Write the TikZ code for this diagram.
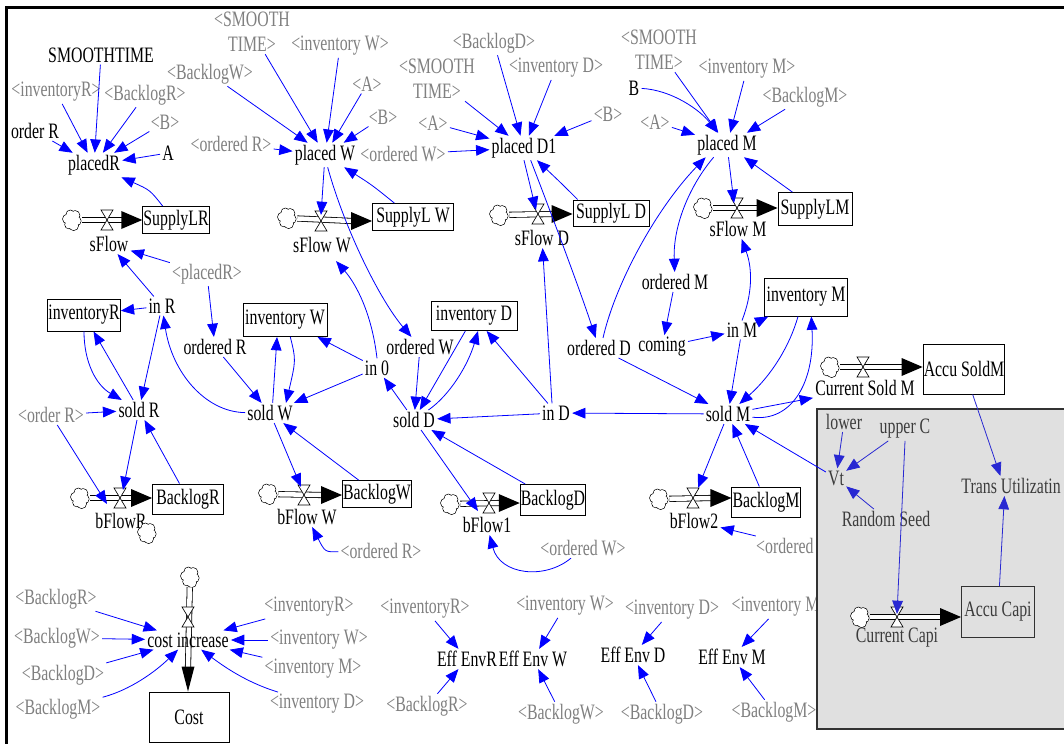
\documentclass[tikz,border=0pt]{standalone}
\usepackage{fontspec}
\setmainfont{Liberation Serif}[FakeStretch=0.72]
\usetikzlibrary{arrows.meta,calc}

\definecolor{lnk}{RGB}{0,0,255}
\definecolor{ghost}{RGB}{128,128,128}
\definecolor{panel}{RGB}{224,224,224}
\definecolor{panelline}{RGB}{50,50,50}
\definecolor{paneltext}{RGB}{60,60,60}
\definecolor{panellnk}{RGB}{40,40,210}

\tikzset{
  every node/.style={font=\fontsize{16.5}{19}\selectfont, inner sep=1.5pt},
  vname/.style={text=black},
  ghosttext/.style={text=ghost, align=center},
  ptext/.style={text=paneltext},
  stock/.style={draw=black, line width=0.7pt, inner xsep=0.5pt, inner ysep=1pt, fill=white},
  conn/.style={draw=lnk, line width=0.6pt, -{Triangle[length=10pt,width=8pt]}},
  panelconn/.style={conn, draw=panellnk},
  pipe/.style={draw=black, line width=0.6pt, double=white, double distance=3.4pt},
  srccloud/.style={circle, minimum size=15pt, inner sep=0pt},
  cloudpic/.pic={
    \foreach \a/\r in {10/4.4,70/4.9,130/4.2,190/4.7,250/4.3,310/4.8} \draw[line width=0.5pt, fill=white] ({4.8*cos(\a)},{6*sin(\a)}) circle (\r);
    \foreach \a/\r in {10/4.4,70/4.9,130/4.2,190/4.7,250/4.3,310/4.8} \fill[white] ({4.8*cos(\a)},{6*sin(\a)}) circle (\r-0.5);
    \fill[white] (0,0) circle (6.5);
  },
  valve/.pic={\draw[black, line width=0.5pt, fill=white] (-6,-10) -- (6,-10) -- (-6,10) -- (6,10) -- cycle;},
  headE/.pic={\fill[black] (0,0) -- (-21,-9) -- (-21,9) -- cycle;},
  headS/.pic={\fill[black] (0,0) -- (-6.5,-25) -- (6.5,-25) -- cycle;},
}

% a source cloud as a named node
\newcommand{\cloudnode}[2]{%
  \node[srccloud] (#1) at (#2) {};
  \pic at (#1) {cloudpic};
}
% cloud -> valve -> stock, horizontal pipe at the height of the valve
\newcommand{\stockflow}[3]{%
  \draw[pipe] (#1) -- ($(#3.west |- #2)+(-20,0)$);
  \pic at (#3.west |- #2) {headE};
  \pic at (#2) {valve};
}

\begin{document}
\begin{tikzpicture}[x=0.75pt,y=-0.75pt]
\useasboundingbox (0,0) rectangle (1064,743);
\clip (0,0) rectangle (1064,743);
\fill[white] (0,0) rectangle (1064,743);

% frame
\draw[line width=2.2pt] (6.5,745) -- (6.5,7.5) -- (1066,7.5);

% ---------------- retailer supply ----------------
\node[vname] (SMOOTHTIME) at (101,55) {SMOOTHTIME};
\node[ghosttext] (invRa) at (56,92) {<inventoryR>};
\node[ghosttext] (BRa) at (145,95) {<BacklogR>};
\node[ghosttext] (Ba) at (165,122) {<B>};
\node[vname] (orderR) at (35,131) {order R};
\node[vname] (A) at (168,153) {A};
\node[vname] (placedR) at (94,165) {placedR};
\cloudnode{c1}{72,220}
\coordinate (v1) at (107,220);
\node[stock, minimum width=48.75pt, minimum height=20.25pt] (SupplyLR) at (176,220) {SupplyLR};
\node[vname] (sFlow) at (109,244) {sFlow};

% ---------------- wholesaler supply ----------------
\node[ghosttext] (smW) at (252,32) {<SMOOTH\\TIME>};
\node[ghosttext] (invWa) at (340,46) {<inventory W>};
\node[ghosttext] (BWa) at (210,74) {<BacklogW>};
\node[ghosttext] (Aw) at (367,84) {<A>};
\node[ghosttext] (Bw) at (383,117) {<B>};
\node[ghosttext] (oRa) at (231,144) {<ordered R>};
\node[vname] (placedW) at (325,155) {placed W};
\node[ghosttext] (oWa) at (403,154) {<ordered W>};
\cloudnode{c2}{287,218}
\coordinate (v2) at (321,221);
\node[stock, minimum width=60.75pt, minimum height=20.25pt] (SupplyLW) at (413,217) {SupplyL W};
\node[vname] (sFlowW) at (322,245) {sFlow W};

% ---------------- distributor supply ----------------
\node[ghosttext] (BDa) at (494,43) {<BacklogD>};
\node[ghosttext] (smD) at (437,79) {<SMOOTH\\TIME>};
\node[ghosttext] (invDa) at (556,68) {<inventory D>};
\node[ghosttext] (Ad) at (433,123) {<A>};
\node[ghosttext] (Bd) at (608,114) {<B>};
\node[vname] (placedD) at (524,148) {placed D1};
\cloudnode{c3}{499,215}
\coordinate (v3) at (538,214);
\node[stock, minimum width=57pt, minimum height=19.5pt] (SupplyLD) at (611,213) {SupplyL D};
\node[vname] (sFlowD) at (542,238) {sFlow D};

% ---------------- manufacturer supply ----------------
\node[ghosttext] (smM) at (659,50) {<SMOOTH\\TIME>};
\node[vname] (Bm) at (634,88) {B};
\node[ghosttext] (invMa) at (747,69) {<inventory M>};
\node[ghosttext] (BMa) at (805,97) {<BacklogM>};
\node[ghosttext] (Am) at (655,122) {<A>};
\node[vname] (placedM) at (727,145) {placed M};
\cloudnode{c4}{703,208}
\coordinate (v4) at (737,208);
\node[stock, minimum width=55.5pt, minimum height=24.75pt] (SupplyLM) at (815,209) {SupplyLM};
\node[vname] (sFlowM) at (738,229) {sFlow M};

% ---------------- inventories ----------------
\node[stock, minimum width=51.75pt, minimum height=24pt] (inventoryR) at (84,315) {inventoryR};
\node[vname] (inR) at (162,306) {in R};
\node[ghosttext] (placedRa) at (207,274) {<placedR>};
\node[vname] (orderedR) at (215,347) {ordered R};
\node[stock, minimum width=63pt, minimum height=24.75pt] (inventoryW) at (285,320) {inventory W};
\node[vname] (in0) at (377,368) {in 0};
\node[vname] (orderedW) at (420,347) {ordered W};
\node[stock, minimum width=64.5pt, minimum height=21.75pt] (inventoryD) at (474,316) {inventory D};
\node[vname] (orderedD) at (599,348) {ordered D};
\node[vname] (orderedM) at (675,282) {ordered M};
\node[vname] (coming) at (662,347) {coming};
\node[vname] (inM) at (742,330) {in M};
\node[stock, minimum width=62.25pt, minimum height=28.5pt] (inventoryM) at (806,297) {inventory M};
\cloudnode{c5}{830,367}
\coordinate (v5) at (863,367);
\node[stock, minimum width=60pt, minimum height=37.5pt] (AccuSoldM) at (964,369) {Accu SoldM};
\node[vname] (CurrentSoldM) at (865,388) {Current Sold M};

\node[vname] (soldR) at (139,410) {sold R};
\node[ghosttext] (orderRa) at (51,415) {<order R>};
\node[vname] (soldW) at (270,413) {sold W};
\node[vname] (soldD) at (414,420) {sold D};
\node[vname] (inD) at (556,413) {in D};
\node[vname] (soldM) at (728,414) {sold M};

% ---------------- backlogs ----------------
\cloudnode{c6}{80,498}
\coordinate (v6) at (120,498);
\node[stock, minimum width=53.25pt, minimum height=22.5pt] (BacklogR) at (188,499) {BacklogR};
\node[vname] (bFlowR) at (121,521) {bFlowR};
\cloudnode{c6b}{147,533}

\cloudnode{c7}{268,494}
\coordinate (v7) at (304,495);
\node[stock, minimum width=51.75pt, minimum height=20.25pt] (BacklogW) at (377,494) {BacklogW};
\node[vname] (bFlowW) at (307,517) {bFlow W};

\cloudnode{c8}{450,504}
\coordinate (v8) at (489,503);
\node[stock, minimum width=47.25pt, minimum height=23.25pt] (BacklogD) at (553,500) {BacklogD};
\node[vname] (bFlow1) at (487,525) {bFlow1};

\cloudnode{c9}{659,499}
\coordinate (v9) at (693,498);
\node[stock, minimum width=50.25pt, minimum height=22.5pt] (BacklogM) at (766,502) {BacklogM};
\node[vname] (bFlow2) at (694,521) {bFlow2};

\node[ghosttext] (oRb) at (381,551) {<ordered R>};
\node[ghosttext] (oWb) at (583,548) {<ordered W>};
\node[ghosttext] (oDb) at (797,546) {<ordered D>};

% ---------------- cost ----------------
\cloudnode{c10}{190,577}
\coordinate (v10) at (188,617);
\node[stock, minimum width=60pt, minimum height=37.5pt] (Cost) at (189,717) {Cost};
\draw[pipe] (c10) -- ($(v10 |- Cost.north)+(0,-24)$);
\pic at (v10 |- Cost.north) {headS};
\pic at (v10) {valve};
\node[vname] (costinc) at (188,640) {cost increase};

\node[ghosttext] (BRc) at (56,599) {<BacklogR>};
\node[ghosttext] (BWc) at (57,638) {<BacklogW>};
\node[ghosttext] (BDc) at (63,675) {<BacklogD>};
\node[ghosttext] (BMc) at (58,709) {<BacklogM>};
\node[ghosttext] (iRc) at (309,607) {<inventoryR>};
\node[ghosttext] (iWc) at (319,640) {<inventory W>};
\node[ghosttext] (iMc) at (313,669) {<inventory M>};
\node[ghosttext] (iDc) at (317,704) {<inventory D>};

% ---------------- environmental effects ----------------
\node[vname] (EffR) at (467,659) {Eff EnvR};
\node[vname] (EffW) at (533,659) {Eff Env W};
\node[vname] (EffD) at (633,655) {Eff Env D};
\node[vname] (EffM) at (732,657) {Eff Env M};
\node[ghosttext] (iRe) at (425,609) {<inventoryR>};
\node[ghosttext] (BRe) at (427,706) {<BacklogR>};
\node[ghosttext] (iWe) at (565,606) {<inventory W>};
\node[ghosttext] (BWe) at (561,714) {<BacklogW>};
\node[ghosttext] (iDe) at (672,610) {<inventory D>};
\node[ghosttext] (BDe) at (662,714) {<BacklogD>};
\node[ghosttext] (iMe) at (780,607) {<inventory M>};
\node[ghosttext] (BMe) at (774,712) {<BacklogM>};

% ---------------- material flows ----------------
\stockflow{c1}{v1}{SupplyLR}
\stockflow{c2}{v2}{SupplyLW}
\stockflow{c3}{v3}{SupplyLD}
\stockflow{c4}{v4}{SupplyLM}
\stockflow{c5}{v5}{AccuSoldM}
\stockflow{c6}{v6}{BacklogR}
\stockflow{c7}{v7}{BacklogW}
\stockflow{c8}{v8}{BacklogD}
\stockflow{c9}{v9}{BacklogM}

% ---------------- information links ----------------
% retailer
\draw[conn] (SMOOTHTIME) -- (placedR);
\draw[conn] (invRa) -- (placedR);
\draw[conn] (BRa) -- (placedR);
\draw[conn] (Ba) -- (placedR);
\draw[conn] (A) -- (placedR);
\draw[conn] (orderR) -- (placedR);
\draw[conn] ([xshift=-10pt]SupplyLR.north) .. controls (150,190) .. (placedR);
\draw[conn] (placedRa) -- (sFlow);
\draw[conn] (inR) -- (sFlow);
\draw[conn] (inR) -- (inventoryR);
\draw[conn] (placedRa) -- (orderedR);
\draw[conn] (inR) -- (soldR);
\draw[conn] (inventoryR.south) .. controls (84,362) and (96,385) .. (soldR);
\draw[conn] (soldR) -- (inventoryR);
\draw[conn] (soldW) .. controls (205,412) and (172,372) .. (inR);
\draw[conn] (orderedR) -- (soldW);
\draw[conn] (orderRa) -- (soldR);
\draw[conn] (soldR) -- ($(v6)+(3,-8)$);
\draw[conn] (BacklogR) -- (soldR);
\draw[conn] (orderRa) -- ($(v6)+(-13,6)$);

% wholesaler
\draw[conn] (smW) -- (placedW);
\draw[conn] (BWa) -- (placedW);
\draw[conn] (invWa) -- (placedW);
\draw[conn] (Aw) -- (placedW);
\draw[conn] (Bw) -- (placedW);
\draw[conn] (oRa) -- (placedW);
\draw[conn] ([xshift=-14pt]SupplyLW.north) .. controls (372,185) .. (placedW);
\draw[conn] (placedW) -- ($(v2)+(0,-6)$);
\draw[conn] ([xshift=2pt]placedW.south) .. controls (345,230) and (380,300) .. (orderedW);
\draw[conn] (in0) -- (inventoryW);
\draw[conn] (in0) -- (soldW);
\draw[conn, shorten >=6pt] (in0.north) .. controls (372,315) and (357,285) .. (sFlowW);
\draw[conn] ([xshift=2pt]soldW.north) -- ([xshift=-6pt]inventoryW.south);
\draw[conn] ([xshift=4pt]inventoryW.south) .. controls (296,360) .. ([xshift=12pt]soldW.north);
\draw[conn] (orderedW) -- (soldD);
\draw[conn] (soldD) -- (in0);
\draw[conn] (soldW) -- ($(v7)+(-3,-8)$);
\draw[conn] (BacklogW) -- (soldW);

% distributor
\draw[conn] (smD) -- (placedD);
\draw[conn] (BDa) -- (placedD);
\draw[conn] (invDa) -- (placedD);
\draw[conn] (Bd) -- (placedD);
\draw[conn] (Ad) -- (placedD);
\draw[conn] (oWa) -- (placedD);
\draw[conn] ([xshift=-25pt]SupplyLD.north) .. controls (560,182) .. (placedD);
\draw[conn] (placedD.south) -- ($(v3)+(-2,-4)$);
\draw[conn] ([xshift=5pt]placedD.south) .. controls (548,205) and (580,290) .. (orderedD);
\draw[conn] ([xshift=-3pt]inD.north) -- (sFlowD);
\draw[conn] (inventoryD) -- (soldD);
\draw[conn] (soldD) .. controls (450,395) and (468,365) .. ([xshift=3pt]inventoryD.south);
\draw[conn] (inD) -- (inventoryD);
\draw[conn] (inD) -- (soldD);
\draw[conn] (soldD) -- ($(v8)+(-11,8)$);
\draw[conn] (BacklogD) -- (soldD);

% manufacturer
\draw[conn] (Bm) .. controls (672,90) and (700,110) .. (placedM);
\draw[conn] (smM) -- (placedM);
\draw[conn] (invMa) -- (placedM);
\draw[conn] (BMa) -- (placedM);
\draw[conn] (Am) -- (placedM);
\draw[conn] ([xshift=-17pt]SupplyLM.north) -- (placedM);
\draw[conn] (placedM) -- ($(v4)+(-3,-5)$);
\draw[conn] ([xshift=-10pt]placedM.south) .. controls (690,185) and (673,225) .. (orderedM);
\draw[conn] ([xshift=3pt]orderedD.north) .. controls (615,285) and (655,210) .. ([xshift=-16pt]placedM.south);
\draw[conn] (orderedM) -- (coming);
\draw[conn] (coming) -- (inM);
\draw[conn] (inM) -- (inventoryM);
\draw[conn] (inM.north) .. controls (752,295) and (753,270) .. (sFlowM);
\draw[conn] (inM) -- (soldM);
\draw[conn] ([xshift=-6pt]inventoryM.south) .. controls (790,345) and (772,375) .. (soldM);
\draw[conn] (soldM) .. controls (790,422) and (815,385) .. ([xshift=4pt]inventoryM.south);
\draw[conn] (soldM) -- (CurrentSoldM);
\draw[conn] (soldM) -- ($(v9)+(5,-10)$);
\draw[conn] (BacklogM) -- (soldM);
\draw[conn] (orderedD) -- (soldM);
\draw[conn] (soldM) -- (inD);

% backlog inflow drivers
\draw[conn] (oRb) .. controls (325,552) .. (bFlowW);
\draw[conn] (oWb) .. controls (545,580) and (500,575) .. (bFlow1);
\draw[conn] (oDb) -- (bFlow2);

% cost drivers
\draw[conn] (BRc) -- (costinc);
\draw[conn] (BWc) -- (costinc);
\draw[conn] (BDc) -- (costinc);
\draw[conn] (BMc) .. controls (130,690) and (155,672) .. (costinc);
\draw[conn] (iRc) -- (costinc);
\draw[conn] (iWc) -- (costinc);
\draw[conn] (iMc) -- (costinc);
\draw[conn] (iDc) .. controls (245,682) and (222,665) .. (costinc);

% environmental effect drivers
\draw[conn] (iRe) -- (EffR);
\draw[conn] (BRe) -- (EffR);
\draw[conn] (iWe) -- (EffW);
\draw[conn] (BWe) -- (EffW);
\draw[conn] (iDe) -- (EffD);
\draw[conn] (BDe) -- (EffD);
\draw[conn] (iMe) -- (EffM);
\draw[conn] (BMe) -- (EffM);

% ---------------- transport capacity panel ----------------
\draw[panelline, line width=2pt, fill=panel] (817,409) rectangle (1080,729);
\node[ptext] (lower) at (844,422) {lower};
\node[ptext] (upperC) at (905,429) {upper C};
\node[ptext] (Vt) at (836,478) {Vt};
\node[ptext] (RandomSeed) at (886,519) {Random Seed};
\node[ptext, anchor=east] (TransU) at (1063,486) {Trans Utilizatin};
\cloudnode{c11}{860,617}
\coordinate (v11) at (897,617);
\node[stock, draw=panelline, fill=panel, text=paneltext, minimum width=54.75pt, minimum height=38.25pt] (AccuCapi) at (998,612) {Accu Capi};
\node[ptext] (CurrentCapi) at (897,638) {Current Capi};
\stockflow{c11}{v11}{AccuCapi}

\draw[panelconn] (lower) -- (Vt);
\draw[panelconn] (upperC) -- (Vt);
\draw[panelconn] (RandomSeed) -- (Vt);
\draw[panelconn] (upperC.south) -- ($(v11)+(0,-3)$);
\draw[panelconn] (AccuCapi) -- ([xshift=-5pt]TransU.south);
\draw[panelconn] (AccuSoldM) -- ([xshift=-8pt]TransU.north);
\draw[conn] (Vt) -- (soldM);
\end{tikzpicture}
\end{document}
